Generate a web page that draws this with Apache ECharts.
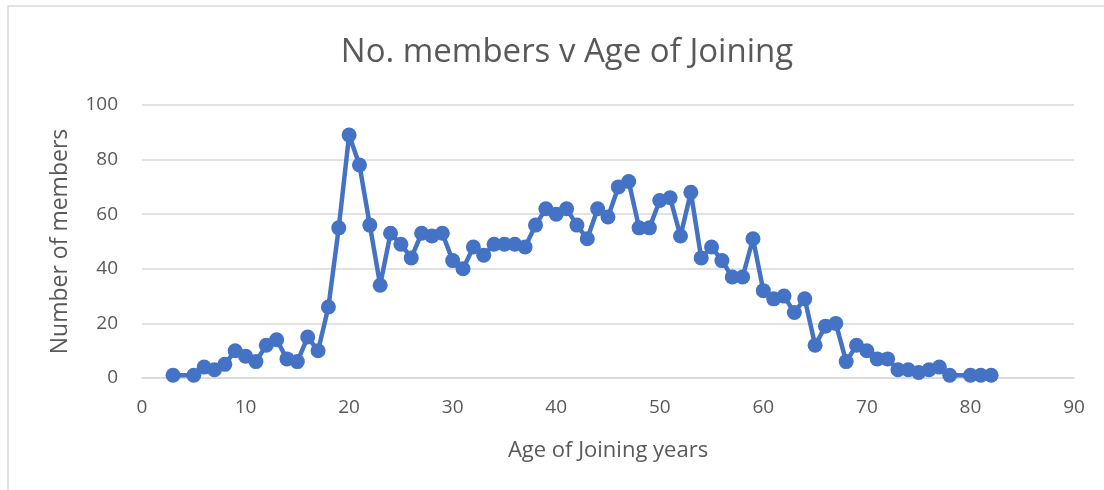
<!DOCTYPE html>
<html>
<head>
<meta charset="utf-8">
<script src="https://cdn.jsdelivr.net/npm/echarts@6/dist/echarts.min.js"></script>
<style>
html,body{margin:0;padding:0;background:#fff;}
#chart{width:1104px;height:490px;}
</style>
</head>
<body>
<div id="chart"></div>
<script>
const ages = [3,5,6,7,8,9,10,11,12,13,14,15,16,17,18,19,20,21,22,23,24,25,26,27,28,29,30,31,32,33,34,35,36,37,38,39,40,41,42,43,44,45,46,47,48,49,50,51,52,53,54,55,56,57,58,59,60,61,62,63,64,65,66,67,68,69,70,71,72,73,74,75,76,77,78,80,81,82];
const members = [1,1,4,3,5,10,8,6,12,14,7,6,15,10,26,55,89,78,56,34,53,49,44,53,52,53,43,40,48,45,49,49,49,48,56,62,60,62,56,51,62,59,70,72,55,55,65,66,52,68,44,48,43,37,37,51,32,29,30,24,29,12,19,20,6,12,10,7,7,3,3,2,3,4,1,1,1,1];
const titleText = 'No. members v Age of Joining';
const xName = 'Age of Joining years';
const yName = 'Number of members';

const font = '"Open Sans", sans-serif';
const chart = echarts.init(document.getElementById('chart'));
chart.setOption({
  animation: false,
  title: {
    text: titleText,
    left: 562, top: 31, textAlign: 'center',
    textStyle: {fontFamily: font, fontSize: 33, fontWeight: 'normal', color: '#595959'}
  },
  graphic: [{
    type: 'rect', shape: {x: 8, y: 6, width: 1200, height: 600},
    style: {fill: 'none', stroke: '#d9d9d9', lineWidth: 1.5}, silent: true, z: -1
  }],
  grid: {left: 142, right: 30, top: 105, bottom: 112},
  xAxis: {
    type: 'value', min: 0, max: 90, interval: 10,
    name: xName, nameLocation: 'middle', nameGap: 62,
    nameTextStyle: {fontFamily: font, fontSize: 22, color: '#595959'},
    axisLine: {show: true, lineStyle: {color: '#d9d9d9', width: 1.5}},
    axisTick: {show: false},
    splitLine: {show: false},
    axisLabel: {fontFamily: font, fontSize: 19, color: '#595959', margin: 20}
  },
  yAxis: {
    type: 'value', min: 0, max: 100, interval: 20,
    name: yName, nameLocation: 'middle', nameGap: 70,
    nameTextStyle: {fontFamily: font, fontSize: 23, color: '#595959'},
    axisLine: {show: false}, axisTick: {show: false},
    splitLine: {lineStyle: {color: '#d9d9d9', width: 1.5}},
    axisLabel: {fontFamily: font, fontSize: 19, color: '#595959', margin: 24}
  },
  series: [{
    type: 'line',
    data: ages.map((a, i) => [a, members[i]]),
    symbol: 'circle', symbolSize: 15,
    lineStyle: {color: '#4472C4', width: 4.5},
    itemStyle: {color: '#4472C4'}
  }]
});
</script>
</body>
</html>
